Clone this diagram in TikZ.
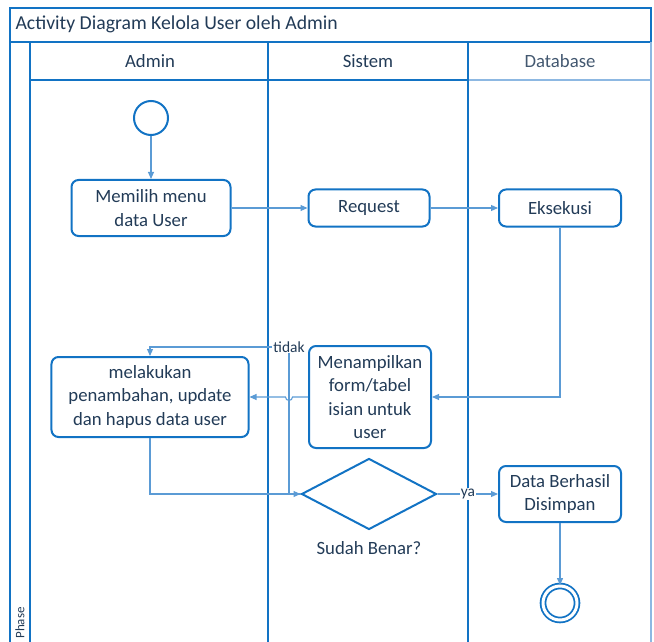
\documentclass[tikz,border=0pt]{standalone}
\usepackage{fontspec}
\setmainfont{Carlito}
\usepackage{xcolor}
\usetikzlibrary{arrows.meta,shapes.geometric}

\definecolor{lanebiru}{HTML}{1273C4}
\definecolor{lanemuda}{HTML}{8DB8E2}
\definecolor{garis}{HTML}{5B9BD5}
\definecolor{teks}{HTML}{223B57}

\tikzset{
  bingkai/.style={draw=lanebiru, line width=2bp},
  bingkaimuda/.style={draw=lanemuda, line width=1.2bp},
  aksi/.style={draw=lanebiru, line width=2bp, rounded corners=7bp, align=center, inner sep=0pt},
  alur/.style={draw=garis, line width=1.1bp, -{Triangle[length=7bp,width=6bp]}},
  label/.style={fill=white, inner sep=1bp, font=\fontsize{15.5}{17}\selectfont}
}

\begin{document}
\begin{tikzpicture}[x=1bp, y=-1bp, every node/.style={text=teks, font=\fontsize{18.8}{23.5}\selectfont}]
    \useasboundingbox (0,0) rectangle (654,642);

    % swimlane frame
    \draw[bingkai] (10,642) -- (10,8) -- (651,8) -- (651,42);
    \draw[bingkai] (10,42) -- (651,42);
    \draw[bingkai] (30,42) -- (30,642);
    \draw[bingkai] (30,80) -- (468,80);
    \draw[bingkai] (268,42) -- (268,642);
    \draw[bingkai] (468,42) -- (468,642);
    \draw[bingkaimuda] (469,80) -- (650,80);
    \draw[bingkaimuda] (651,42) -- (651,642);

    \node[anchor=west, font=\fontsize{19.8}{23.5}\selectfont] (judul) at (12,24) {Activity Diagram Kelola User oleh Admin};
    \node (hadmin) at (150,61) {Admin};
    \node (hsistem) at (368,61) {Sistem};
    \node[text=teks!85!white] (hdb) at (560,61) {Database};
    \node[rotate=90, font=\fontsize{13}{15}\selectfont] (phase) at (20,623) {Phase};

    % activities
    \node[circle, draw=lanebiru, line width=2bp, minimum size=34bp, inner sep=0pt] (mulai) at (151,118) {};
    \node[aksi, minimum width=159bp, minimum height=56bp] (memilih) at (151,208) {Memilih menu\\data User};
    \node[aksi, minimum width=121bp, minimum height=37bp] (request) at (369,208) {Request};
    \node[aksi, minimum width=122bp, minimum height=37bp] (eksekusi) at (560,208) {Eksekusi};
    \node[aksi, minimum width=122bp, minimum height=102bp] (tampil) at (370,397) {Menampilkan\\form/tabel\\isian untuk\\user};
    \node[aksi, minimum width=197bp, minimum height=80bp] (lakukan) at (150,397) {melakukan\\penambahan, update\\dan hapus data user};
    \node[diamond, draw=lanebiru, line width=2bp, minimum width=135bp, minimum height=71bp, inner sep=0pt] (cek) at (369,494) {};
    \node (tanya) at (369,548) {Sudah Benar?};
    \node[aksi, minimum width=122bp, minimum height=56bp] (simpan) at (560,494) {Data Berhasil\\Disimpan};
    \node[circle, draw=lanebiru, line width=1.8bp, double=white, double distance=3bp, minimum size=34bp, inner sep=0pt] (selesai) at (560,603) {};

    % flows
    \coordinate (belok) at (289,494);
    \coordinate (atas) at (289,347);
    \draw[alur] (mulai) -- (memilih);
    \draw[alur] (memilih) -- (request);
    \draw[alur] (request) -- (eksekusi);
    \draw[alur] (eksekusi.south) |- (tampil.east);
    \draw[alur] (tampil.west) -- (292.5,397) arc[start angle=0, end angle=-180, radius=3.5bp] -- (lakukan.east);
    \draw[alur] (lakukan.south) |- (cek.west);
    \draw[alur] (cek.west) -- (belok) -- (atas) -| (lakukan.north);
    \node[label] (tidak) at (atas) {tidak};
    \draw[alur] (cek.east) -- (simpan.west);
    \node[label] (ya) at (468,494) {ya};
    \draw[alur] (simpan) -- (selesai);
\end{tikzpicture}
\end{document}
